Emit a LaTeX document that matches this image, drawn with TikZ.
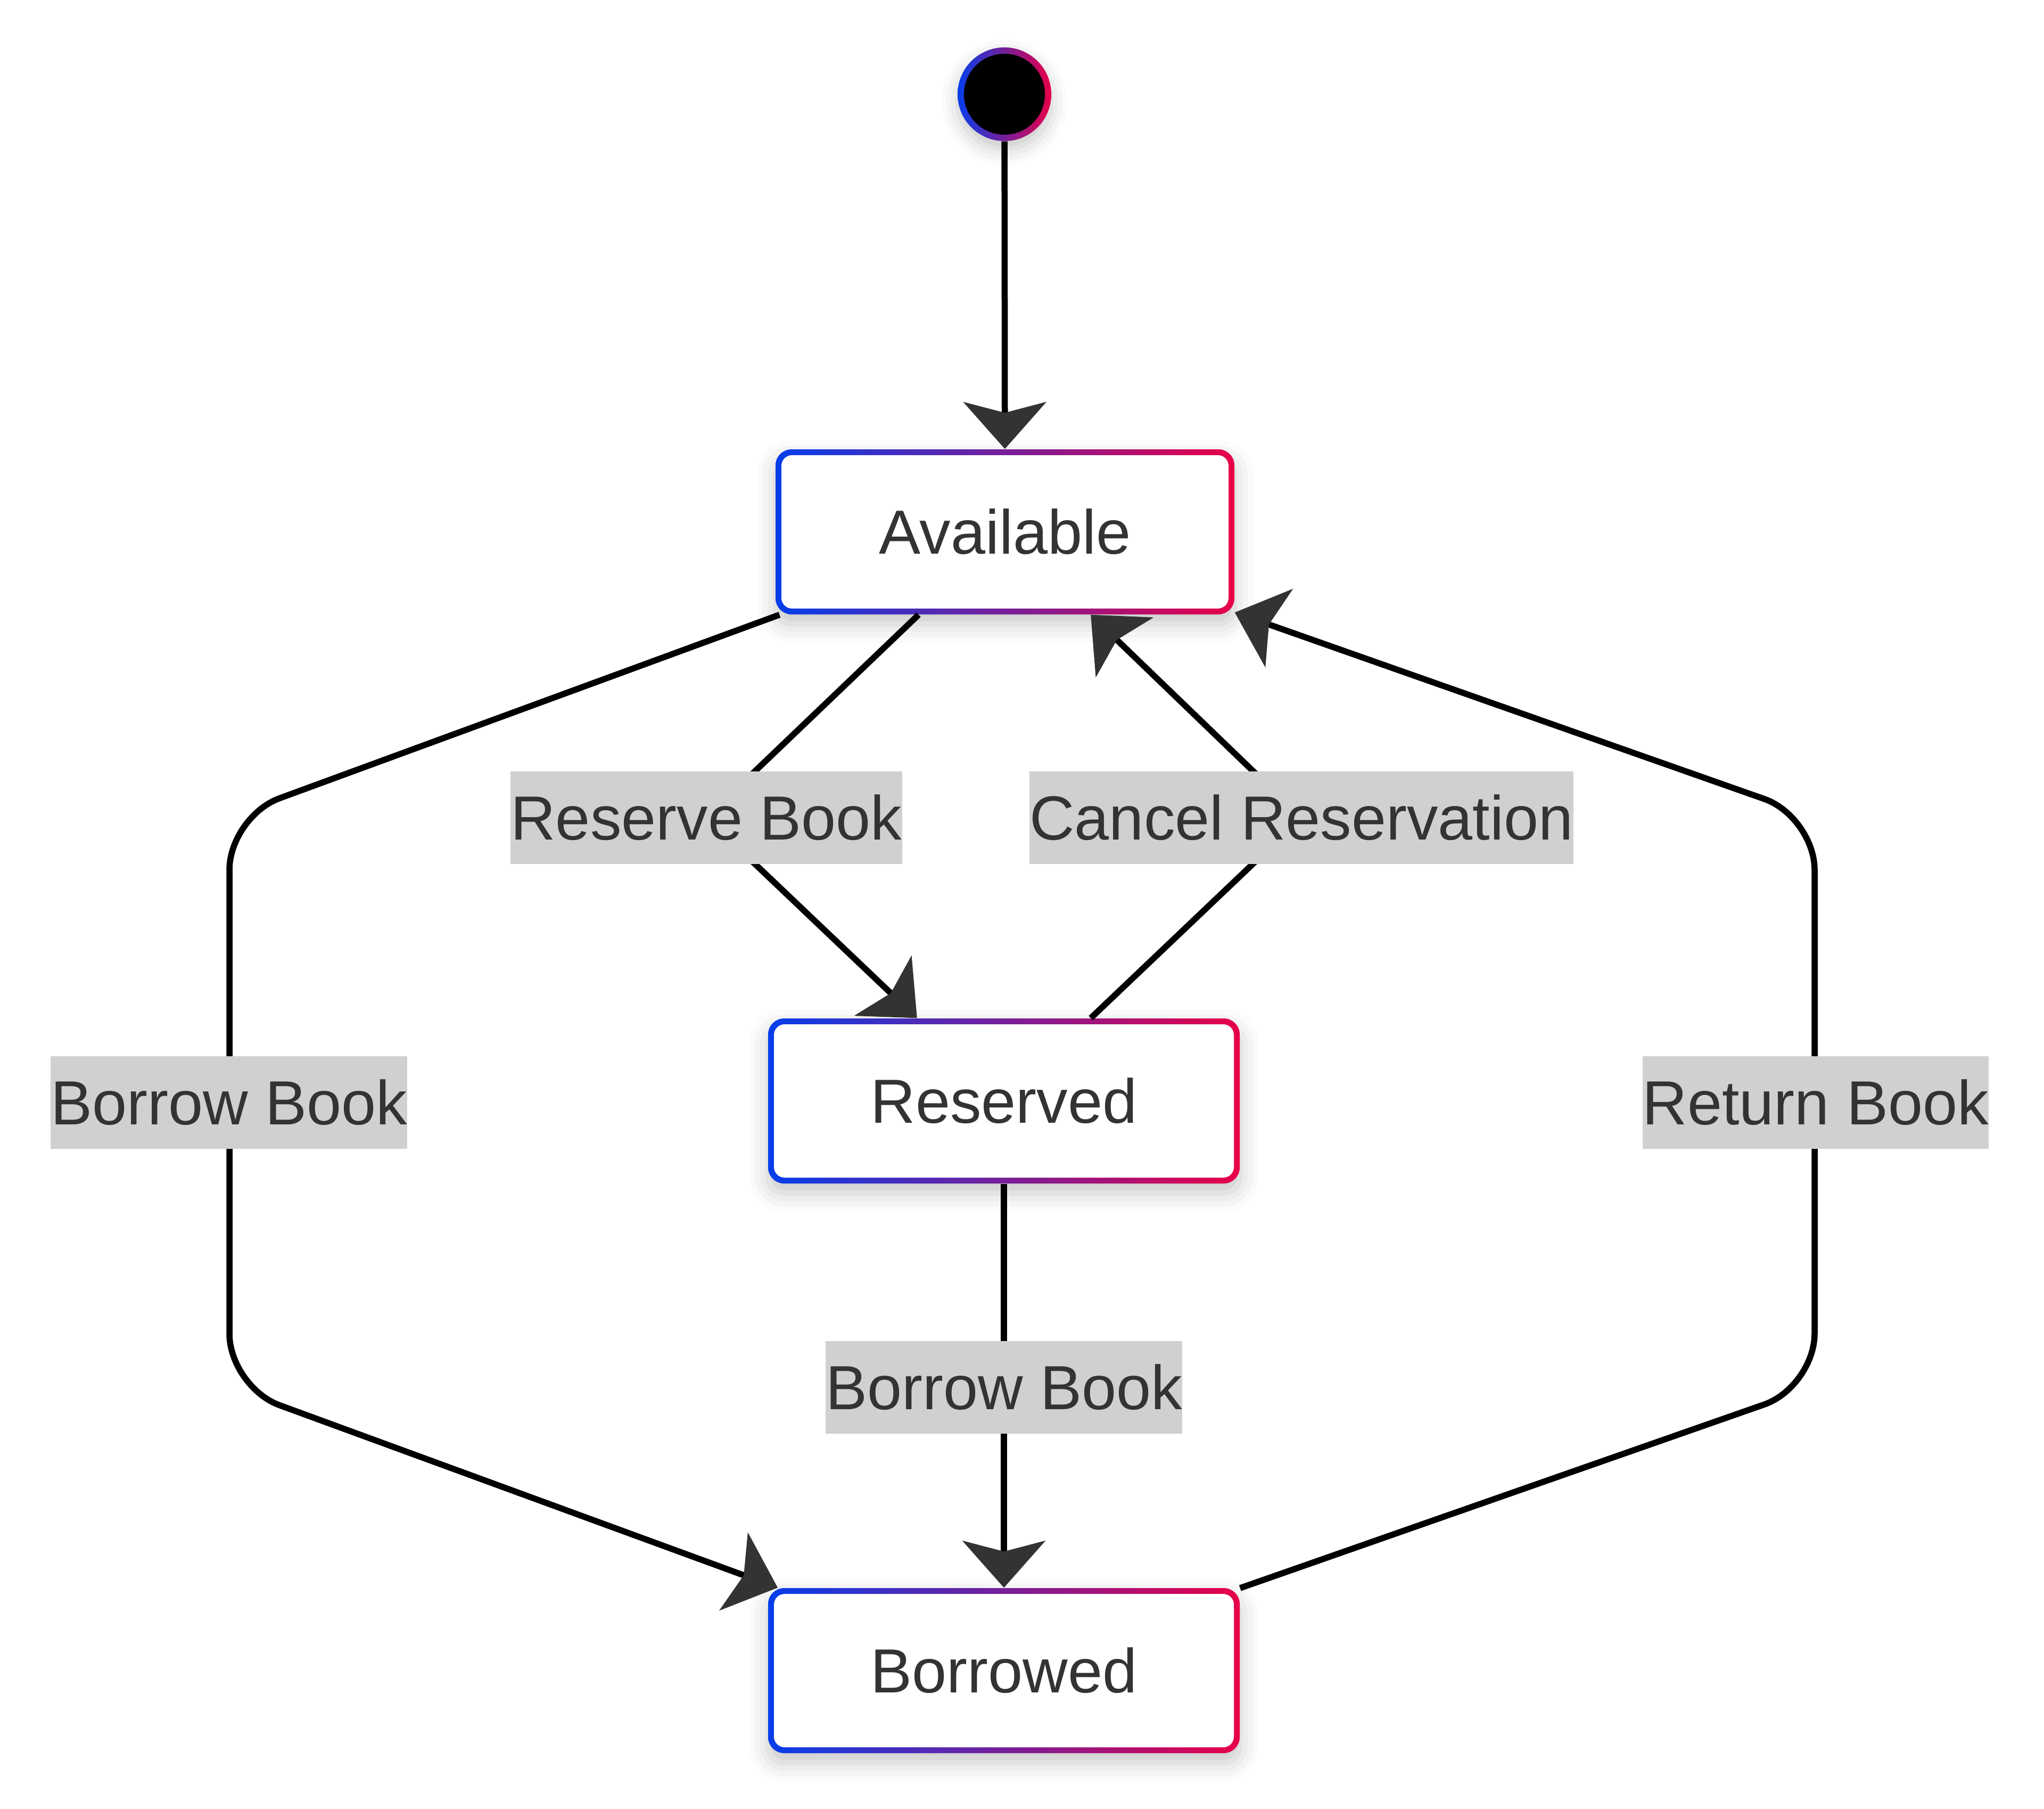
\documentclass[tikz,border=0pt]{standalone}
\usepackage{fontspec}
\setmainfont{Liberation Sans}
\usetikzlibrary{arrows.meta,shadows.blur}
\definecolor{gblue}{RGB}{5,62,235}
\definecolor{gred}{RGB}{232,0,72}
\definecolor{txt}{RGB}{51,51,51}
\definecolor{arrgray}{RGB}{51,51,51}
\definecolor{lblgray}{RGB}{208,208,208}
\tikzset{
  bigfont/.style={font=\fontsize{33.3}{40}\selectfont},
  statebox/.style={rounded corners=0.3cm, inner sep=0pt, text=txt, bigfont,
    blur shadow={shadow xshift=0cm, shadow yshift=-0.18cm, shadow blur radius=0.35cm, shadow opacity=22},
    path picture={
      \shade[left color=gblue,right color=gred] (path picture bounding box.south west) rectangle (path picture bounding box.north east);
      \fill[white,rounded corners=0.2cm] ([shift={(0.11,0.11)}]path picture bounding box.south west) rectangle ([shift={(-0.11,-0.11)}]path picture bounding box.north east);
    }},
  startdot/.style={circle, inner sep=0pt, minimum size=1.76cm,
    blur shadow={shadow xshift=0cm, shadow yshift=-0.15cm, shadow blur radius=0.3cm, shadow opacity=22},
    path picture={
      \shade[left color=gblue,right color=gred] (path picture bounding box.south west) rectangle (path picture bounding box.north east);
      \fill[black] (path picture bounding box.center) circle (0.76cm);
    }},
  edgelbl/.style={fill=lblgray, inner xsep=0pt, inner ysep=0pt, minimum height=1.74cm, text=txt, bigfont},
  conn/.style={draw=black, line width=0.115cm, -{Stealth[length=0.88cm,width=1.55cm,inset=0.2cm,color=arrgray]}}
}
\begin{document}
\begin{tikzpicture}
\useasboundingbox (0,0) rectangle (38.4,-33.97);
% states
\node[startdot] (start) at (18.87,-1.77) {};
\node[statebox, minimum width=8.62cm, minimum height=3.10cm] (avail) at (18.88,-9.99) {Available};
\node[statebox, minimum width=8.86cm, minimum height=3.10cm] (res) at (18.86,-20.68) {Reserved};
\node[statebox, minimum width=8.86cm, minimum height=3.10cm] (bor) at (18.86,-31.38) {Borrowed};
% routing points
\coordinate (cl1) at (4.31,-15.34);
\coordinate (cl2) at (4.31,-26.05);
\coordinate (cr1) at (34.09,-26.05);
\coordinate (cr2) at (34.09,-15.34);
\coordinate (pres) at (13.27,-15.36);
\coordinate (pcan) at (24.45,-15.36);
% connectors
\draw[conn] (start) -- (avail);
\draw[conn, rounded corners=1cm] (avail) -- (cl1) -- (cl2) -- (bor);
\draw[conn] (avail) -- (pres) -- (res);
\draw[conn] (res) -- (pcan) -- (avail);
\draw[conn] (res) -- (bor);
\draw[conn, rounded corners=1cm] (bor) -- (cr1) -- (cr2) -- (avail);
% labels
\node[edgelbl] (lbBorrowL) at (4.30,-20.71) {Borrow Book};
\node[edgelbl] (lbReserve) at (pres) {Reserve Book};
\node[edgelbl] (lbCancel) at (pcan) {Cancel Reservation};
\node[edgelbl] (lbReturn) at (34.11,-20.71) {Return Book};
\node[edgelbl] (lbBorrowM) at (18.86,-26.06) {Borrow Book};
\end{tikzpicture}
\end{document}
